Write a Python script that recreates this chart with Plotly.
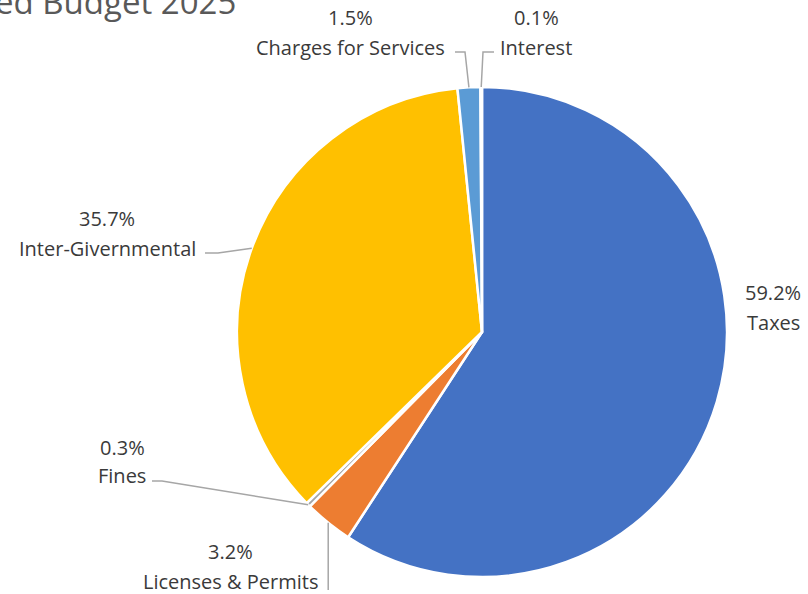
import math
import plotly.graph_objects as go

# ---- data ----
categories = ["Taxes", "Licenses & Permits", "Fines", "Inter-Givernmental",
              "Charges for Services", "Interest"]
shares = [59.2, 3.2, 0.3, 35.7, 1.5, 0.1]
colors = ["#4472C4", "#ED7D31", "#A5A5A5", "#FFC000", "#5B9BD5", "#70AD47"]
title_text = "Proposed Budget 2025"

# ---- layout geometry (pixels) ----
W, H = 808, 594
CX, CY, R = 482, 332, 245

# label block centres and leader elbow points (pixels)
label_pos = {
    "Taxes": (773, 307),
    "Licenses & Permits": (231, 566),
    "Fines": (122, 461),
    "Inter-Givernmental": (107, 233),
    "Charges for Services": (350, 33),
    "Interest": (536, 33),
}
line_gap = {"Fines": 28}
leader_start = {
    "Inter-Givernmental": [(205, 253), (218, 253)],
    "Charges for Services": [(455, 52), (465, 52)],
    "Interest": [(494, 52), (483, 52)],
    "Fines": [(152, 481), (162, 481)],
    "Licenses & Permits": None,  # vertical from bottom
}

def px(x):
    return x / W

def py(y):
    return 1 - y / H

fig = go.Figure(go.Pie(
    labels=categories,
    values=shares,
    sort=False,
    direction="clockwise",
    rotation=0,
    marker=dict(colors=colors, line=dict(color="white", width=2.5)),
    textinfo="none",
    hoverinfo="skip",
    showlegend=False,
    domain=dict(x=[px(CX - R), px(CX + R)], y=[py(CY + R), py(CY - R)]),
))

annotations = []
shapes = []
total = sum(shares)
cum = 0.0
FONT = dict(family="Open Sans", size=20, color="#3A3A3A")
for cat, v in zip(categories, shares):
    mid = (cum + v / 2) / total * 2 * math.pi
    cum += v
    ex = CX + R * math.sin(mid)
    ey = CY - R * math.cos(mid)
    lx, ly = label_pos[cat]
    g = line_gap.get(cat, 30) / 2
    annotations.append(dict(x=px(lx), y=py(ly - g), xref="paper", yref="paper",
                            text=f"{v:.1f}%", showarrow=False, font=FONT,
                            xanchor="center", yanchor="middle"))
    annotations.append(dict(x=px(lx), y=py(ly + g), xref="paper", yref="paper",
                            text=cat, showarrow=False, font=FONT,
                            xanchor="center", yanchor="middle"))
    if cat in leader_start:
        pts = leader_start[cat]
        if pts is None:
            pts = [(ex, 590)]
        pts = pts + [(ex, ey)]
        path = "M " + " L ".join(f"{px(a)},{py(b)}" for a, b in pts)
        shapes.append(dict(type="path", path=path, xref="paper", yref="paper",
                           line=dict(color="#A6A6A6", width=1.5)))

annotations.append(dict(x=px(238), y=py(2), xref="paper", yref="paper",
                        text=title_text, showarrow=False,
                        font=dict(family="Open Sans", size=33, color="#595959"),
                        xanchor="right", yanchor="middle"))

fig.update_layout(
    width=W, height=H,
    margin=dict(l=0, r=0, t=0, b=0),
    paper_bgcolor="white",
    plot_bgcolor="white",
    annotations=annotations,
    shapes=shapes,
)

fig.write_html("out.html")
